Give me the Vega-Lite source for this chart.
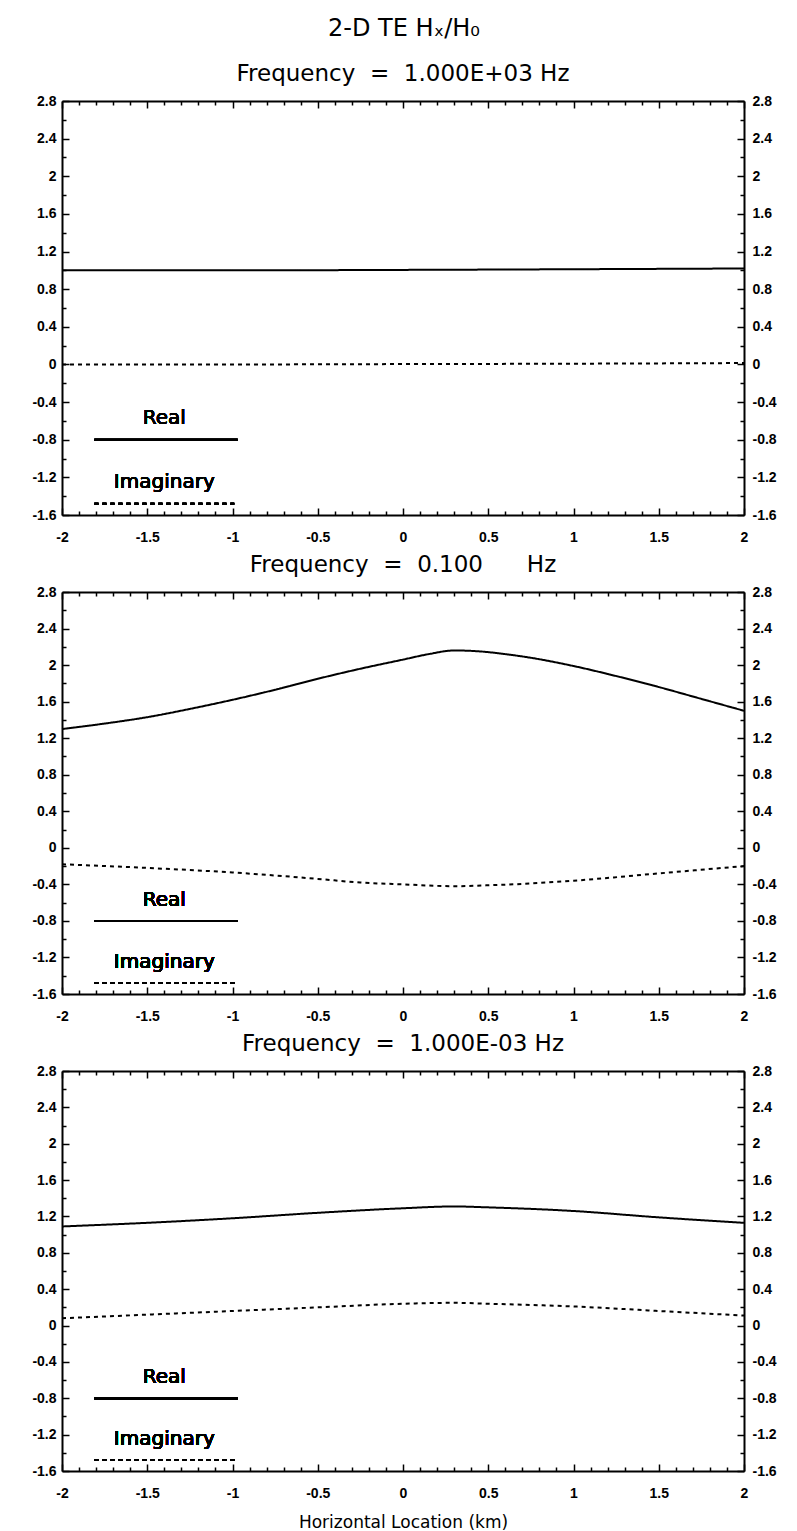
{
  "$schema": "https://vega.github.io/schema/vega-lite/v6.json",
  "background": "white",
  "padding": {"left": 31, "right": 8, "top": 17, "bottom": 0},
  "title": {"text": "2-D TE Hₓ/H₀", "fontSize": 24, "font": "DejaVu Sans", "fontWeight": "normal", "anchor": "middle", "offset": 22, "color": "black"},
  "config": {
    "view": {"stroke": null},
    "title": {"font": "DejaVu Sans", "fontSize": 23, "fontWeight": "normal", "color": "black", "offset": 8},
    "axis": {"grid": false, "domainColor": "black", "domainWidth": 2, "tickColor": "black", "tickWidth": 1.5, "labelColor": "black", "labelFont": "Liberation Sans", "labelFontWeight": "bold", "labelFontSize": 14, "titleFont": "DejaVu Sans", "titleFontWeight": "normal", "titleFontSize": 17, "titleColor": "black"}
  },
  "datasets": {
    "p1": [
      {"x": -2, "value": 1.0, "part": "Real"}, {"x": -1, "value": 1.0, "part": "Real"}, {"x": 0, "value": 1.005, "part": "Real"}, {"x": 1, "value": 1.012, "part": "Real"}, {"x": 2, "value": 1.02, "part": "Real"},
      {"x": -2, "value": 0.0, "part": "Imaginary"}, {"x": -1, "value": 0.0, "part": "Imaginary"}, {"x": 0, "value": 0.004, "part": "Imaginary"}, {"x": 1, "value": 0.008, "part": "Imaginary"}, {"x": 2, "value": 0.015, "part": "Imaginary"}
    ],
    "p2": [
      {"x": -2, "value": 1.30, "part": "Real"}, {"x": -1.75, "value": 1.36, "part": "Real"}, {"x": -1.5, "value": 1.43, "part": "Real"}, {"x": -1.25, "value": 1.52, "part": "Real"}, {"x": -1, "value": 1.62, "part": "Real"}, {"x": -0.75, "value": 1.73, "part": "Real"}, {"x": -0.5, "value": 1.85, "part": "Real"}, {"x": -0.25, "value": 1.96, "part": "Real"}, {"x": 0, "value": 2.06, "part": "Real"}, {"x": 0.15, "value": 2.12, "part": "Real"}, {"x": 0.3, "value": 2.16, "part": "Real"}, {"x": 0.45, "value": 2.15, "part": "Real"}, {"x": 0.6, "value": 2.12, "part": "Real"}, {"x": 0.75, "value": 2.08, "part": "Real"}, {"x": 1, "value": 1.99, "part": "Real"}, {"x": 1.25, "value": 1.88, "part": "Real"}, {"x": 1.5, "value": 1.76, "part": "Real"}, {"x": 1.75, "value": 1.63, "part": "Real"}, {"x": 2, "value": 1.50, "part": "Real"},
      {"x": -2, "value": -0.18, "part": "Imaginary"}, {"x": -1.5, "value": -0.22, "part": "Imaginary"}, {"x": -1, "value": -0.27, "part": "Imaginary"}, {"x": -0.5, "value": -0.34, "part": "Imaginary"}, {"x": -0.25, "value": -0.38, "part": "Imaginary"}, {"x": 0, "value": -0.40, "part": "Imaginary"}, {"x": 0.3, "value": -0.42, "part": "Imaginary"}, {"x": 0.5, "value": -0.41, "part": "Imaginary"}, {"x": 0.75, "value": -0.39, "part": "Imaginary"}, {"x": 1, "value": -0.36, "part": "Imaginary"}, {"x": 1.5, "value": -0.28, "part": "Imaginary"}, {"x": 2, "value": -0.20, "part": "Imaginary"}
    ],
    "p3": [
      {"x": -2, "value": 1.09, "part": "Real"}, {"x": -1.5, "value": 1.13, "part": "Real"}, {"x": -1, "value": 1.18, "part": "Real"}, {"x": -0.5, "value": 1.24, "part": "Real"}, {"x": 0, "value": 1.29, "part": "Real"}, {"x": 0.3, "value": 1.31, "part": "Real"}, {"x": 0.5, "value": 1.30, "part": "Real"}, {"x": 1, "value": 1.26, "part": "Real"}, {"x": 1.5, "value": 1.19, "part": "Real"}, {"x": 2, "value": 1.13, "part": "Real"},
      {"x": -2, "value": 0.08, "part": "Imaginary"}, {"x": -1.5, "value": 0.12, "part": "Imaginary"}, {"x": -1, "value": 0.16, "part": "Imaginary"}, {"x": -0.5, "value": 0.20, "part": "Imaginary"}, {"x": 0, "value": 0.24, "part": "Imaginary"}, {"x": 0.3, "value": 0.25, "part": "Imaginary"}, {"x": 0.5, "value": 0.24, "part": "Imaginary"}, {"x": 1, "value": 0.21, "part": "Imaginary"}, {"x": 1.5, "value": 0.16, "part": "Imaginary"}, {"x": 2, "value": 0.11, "part": "Imaginary"}
    ]
  },
  "spacing": 7,
  "vconcat": [
    {
      "width": 682, "height": 414,
      "title": "Frequency\u00a0 =\u00a0 1.000E+03 Hz",
      "data": {"name": "p1"},
      "resolve": {"axis": {"x": "independent", "y": "independent"}},
      "layer": [
        {"mark": {"type": "line", "color": "black", "strokeWidth": 2, "interpolate": "monotone"},
         "encoding": {
           "x": {"field": "x", "type": "quantitative", "scale": {"domain": [-2, 2], "nice": false, "zero": false},
                 "axis": {"orient": "bottom", "title": null, "values": [-2,-1.9,-1.8,-1.7,-1.6,-1.5,-1.4,-1.3,-1.2,-1.1,-1,-0.9,-0.8,-0.7,-0.6,-0.5,-0.4,-0.3,-0.2,-0.1,0,0.1,0.2,0.3,0.4,0.5,0.6,0.7,0.8,0.9,1,1.1,1.2,1.3,1.4,1.5,1.6,1.7,1.8,1.9,2],
                          "labelExpr": "abs(datum.value*2 - round(datum.value*2)) < 0.01 ? replace(format(datum.value, '~g'), '\u2212', '-') : ''",
                          "tickSize": {"condition": {"test": "abs(datum.value*2 - round(datum.value*2)) < 0.01", "value": -7}, "value": -4},
                          "labelPadding": 22, "labelFlush": false, "labelOverlap": false}},
           "y": {"field": "value", "type": "quantitative", "scale": {"domain": [-1.6, 2.8], "nice": false, "zero": false},
                 "axis": {"orient": "left", "title": null, "values": [-1.6,-1.4,-1.2,-1,-0.8,-0.6,-0.4,-0.2,0,0.2,0.4,0.6,0.8,1,1.2,1.4,1.6,1.8,2,2.2,2.4,2.6,2.8],
                          "labelExpr": "abs(datum.value/0.4 - round(datum.value/0.4)) < 0.01 ? replace(format(datum.value, '~g'), '\u2212', '-') : ''",
                          "tickSize": {"condition": {"test": "abs(datum.value/0.4 - round(datum.value/0.4)) < 0.01", "value": -7}, "value": -4},
                          "labelPadding": 13, "labelFlush": false, "labelOverlap": false}},
           "strokeDash": {"field": "part", "type": "nominal", "scale": {"domain": ["Real", "Imaginary"], "range": [[1, 0], [4, 4]]}, "legend": null}
         }},
        {"mark": {"type": "line", "opacity": 0},
         "encoding": {
           "x": {"field": "x", "type": "quantitative",
                 "axis": {"orient": "top", "title": null, "labels": false, "values": [-2,-1.9,-1.8,-1.7,-1.6,-1.5,-1.4,-1.3,-1.2,-1.1,-1,-0.9,-0.8,-0.7,-0.6,-0.5,-0.4,-0.3,-0.2,-0.1,0,0.1,0.2,0.3,0.4,0.5,0.6,0.7,0.8,0.9,1,1.1,1.2,1.3,1.4,1.5,1.6,1.7,1.8,1.9,2],
                          "tickSize": {"condition": {"test": "abs(datum.value*2 - round(datum.value*2)) < 0.01", "value": -7}, "value": -4}}},
           "y": {"field": "value", "type": "quantitative",
                 "axis": {"orient": "right", "title": null, "values": [-1.6,-1.4,-1.2,-1,-0.8,-0.6,-0.4,-0.2,0,0.2,0.4,0.6,0.8,1,1.2,1.4,1.6,1.8,2,2.2,2.4,2.6,2.8],
                          "labelExpr": "abs(datum.value/0.4 - round(datum.value/0.4)) < 0.01 ? replace(format(datum.value, '~g'), '\u2212', '-') : ''",
                          "tickSize": {"condition": {"test": "abs(datum.value/0.4 - round(datum.value/0.4)) < 0.01", "value": -7}, "value": -4},
                          "labelPadding": 15, "labelFlush": false, "labelOverlap": false}},
           "detail": {"field": "part"}
         }},
        {"mark": {"type": "rule", "color": "black", "strokeWidth": 2},
         "encoding": {"x": {"datum": -1.81, "type": "quantitative", "axis": null}, "x2": {"datum": -0.97}, "y": {"datum": -0.8, "type": "quantitative", "axis": null}}},
        {"mark": {"type": "rule", "color": "black", "strokeWidth": 2, "strokeDash": [4, 4]},
         "encoding": {"x": {"datum": -1.81, "type": "quantitative", "axis": null}, "x2": {"datum": -0.99}, "y": {"datum": -1.48, "type": "quantitative", "axis": null}}},
        {"mark": {"type": "text", "font": "DejaVu Sans", "fontSize": 20, "color": "black"},
         "encoding": {"x": {"datum": -1.4, "type": "quantitative", "axis": null}, "y": {"datum": -0.57, "type": "quantitative", "axis": null}, "text": {"value": "Real"}}},
        {"mark": {"type": "text", "font": "DejaVu Sans", "fontSize": 20, "color": "black"},
         "encoding": {"x": {"datum": -1.4, "type": "quantitative", "axis": null}, "y": {"datum": -1.25, "type": "quantitative", "axis": null}, "text": {"value": "Imaginary"}}}
      ]
    },
    {
      "width": 682, "height": 402,
      "title": "Frequency\u00a0 =\u00a0 0.100\u00a0\u00a0\u00a0\u00a0\u00a0\u00a0Hz",
      "data": {"name": "p2"},
      "resolve": {"axis": {"x": "independent", "y": "independent"}},
      "layer": [
        {"mark": {"type": "line", "color": "black", "strokeWidth": 2, "interpolate": "monotone"},
         "encoding": {
           "x": {"field": "x", "type": "quantitative", "scale": {"domain": [-2, 2], "nice": false, "zero": false},
                 "axis": {"orient": "bottom", "title": null, "values": [-2,-1.9,-1.8,-1.7,-1.6,-1.5,-1.4,-1.3,-1.2,-1.1,-1,-0.9,-0.8,-0.7,-0.6,-0.5,-0.4,-0.3,-0.2,-0.1,0,0.1,0.2,0.3,0.4,0.5,0.6,0.7,0.8,0.9,1,1.1,1.2,1.3,1.4,1.5,1.6,1.7,1.8,1.9,2],
                          "labelExpr": "abs(datum.value*2 - round(datum.value*2)) < 0.01 ? replace(format(datum.value, '~g'), '\u2212', '-') : ''",
                          "tickSize": {"condition": {"test": "abs(datum.value*2 - round(datum.value*2)) < 0.01", "value": -7}, "value": -4},
                          "labelPadding": 22, "labelFlush": false, "labelOverlap": false}},
           "y": {"field": "value", "type": "quantitative", "scale": {"domain": [-1.6, 2.8], "nice": false, "zero": false},
                 "axis": {"orient": "left", "title": null, "values": [-1.6,-1.4,-1.2,-1,-0.8,-0.6,-0.4,-0.2,0,0.2,0.4,0.6,0.8,1,1.2,1.4,1.6,1.8,2,2.2,2.4,2.6,2.8],
                          "labelExpr": "abs(datum.value/0.4 - round(datum.value/0.4)) < 0.01 ? replace(format(datum.value, '~g'), '\u2212', '-') : ''",
                          "tickSize": {"condition": {"test": "abs(datum.value/0.4 - round(datum.value/0.4)) < 0.01", "value": -7}, "value": -4},
                          "labelPadding": 13, "labelFlush": false, "labelOverlap": false}},
           "strokeDash": {"field": "part", "type": "nominal", "scale": {"domain": ["Real", "Imaginary"], "range": [[1, 0], [4, 4]]}, "legend": null}
         }},
        {"mark": {"type": "line", "opacity": 0},
         "encoding": {
           "x": {"field": "x", "type": "quantitative",
                 "axis": {"orient": "top", "title": null, "labels": false, "values": [-2,-1.9,-1.8,-1.7,-1.6,-1.5,-1.4,-1.3,-1.2,-1.1,-1,-0.9,-0.8,-0.7,-0.6,-0.5,-0.4,-0.3,-0.2,-0.1,0,0.1,0.2,0.3,0.4,0.5,0.6,0.7,0.8,0.9,1,1.1,1.2,1.3,1.4,1.5,1.6,1.7,1.8,1.9,2],
                          "tickSize": {"condition": {"test": "abs(datum.value*2 - round(datum.value*2)) < 0.01", "value": -7}, "value": -4}}},
           "y": {"field": "value", "type": "quantitative",
                 "axis": {"orient": "right", "title": null, "values": [-1.6,-1.4,-1.2,-1,-0.8,-0.6,-0.4,-0.2,0,0.2,0.4,0.6,0.8,1,1.2,1.4,1.6,1.8,2,2.2,2.4,2.6,2.8],
                          "labelExpr": "abs(datum.value/0.4 - round(datum.value/0.4)) < 0.01 ? replace(format(datum.value, '~g'), '\u2212', '-') : ''",
                          "tickSize": {"condition": {"test": "abs(datum.value/0.4 - round(datum.value/0.4)) < 0.01", "value": -7}, "value": -4},
                          "labelPadding": 15, "labelFlush": false, "labelOverlap": false}},
           "detail": {"field": "part"}
         }},
        {"mark": {"type": "rule", "color": "black", "strokeWidth": 2},
         "encoding": {"x": {"datum": -1.81, "type": "quantitative", "axis": null}, "x2": {"datum": -0.97}, "y": {"datum": -0.8, "type": "quantitative", "axis": null}}},
        {"mark": {"type": "rule", "color": "black", "strokeWidth": 2, "strokeDash": [4, 4]},
         "encoding": {"x": {"datum": -1.81, "type": "quantitative", "axis": null}, "x2": {"datum": -0.99}, "y": {"datum": -1.48, "type": "quantitative", "axis": null}}},
        {"mark": {"type": "text", "font": "DejaVu Sans", "fontSize": 20, "color": "black"},
         "encoding": {"x": {"datum": -1.4, "type": "quantitative", "axis": null}, "y": {"datum": -0.57, "type": "quantitative", "axis": null}, "text": {"value": "Real"}}},
        {"mark": {"type": "text", "font": "DejaVu Sans", "fontSize": 20, "color": "black"},
         "encoding": {"x": {"datum": -1.4, "type": "quantitative", "axis": null}, "y": {"datum": -1.25, "type": "quantitative", "axis": null}, "text": {"value": "Imaginary"}}}
      ]
    },
    {
      "width": 682, "height": 400,
      "title": "Frequency\u00a0 =\u00a0 1.000E-03 Hz",
      "data": {"name": "p3"},
      "resolve": {"axis": {"x": "independent", "y": "independent"}},
      "layer": [
        {"mark": {"type": "line", "color": "black", "strokeWidth": 2, "interpolate": "monotone"},
         "encoding": {
           "x": {"field": "x", "type": "quantitative", "scale": {"domain": [-2, 2], "nice": false, "zero": false},
                 "axis": {"orient": "bottom", "title": "Horizontal Location (km)", "titlePadding": 11, "values": [-2,-1.9,-1.8,-1.7,-1.6,-1.5,-1.4,-1.3,-1.2,-1.1,-1,-0.9,-0.8,-0.7,-0.6,-0.5,-0.4,-0.3,-0.2,-0.1,0,0.1,0.2,0.3,0.4,0.5,0.6,0.7,0.8,0.9,1,1.1,1.2,1.3,1.4,1.5,1.6,1.7,1.8,1.9,2],
                          "labelExpr": "abs(datum.value*2 - round(datum.value*2)) < 0.01 ? replace(format(datum.value, '~g'), '\u2212', '-') : ''",
                          "tickSize": {"condition": {"test": "abs(datum.value*2 - round(datum.value*2)) < 0.01", "value": -7}, "value": -4},
                          "labelPadding": 22, "labelFlush": false, "labelOverlap": false}},
           "y": {"field": "value", "type": "quantitative", "scale": {"domain": [-1.6, 2.8], "nice": false, "zero": false},
                 "axis": {"orient": "left", "title": null, "values": [-1.6,-1.4,-1.2,-1,-0.8,-0.6,-0.4,-0.2,0,0.2,0.4,0.6,0.8,1,1.2,1.4,1.6,1.8,2,2.2,2.4,2.6,2.8],
                          "labelExpr": "abs(datum.value/0.4 - round(datum.value/0.4)) < 0.01 ? replace(format(datum.value, '~g'), '\u2212', '-') : ''",
                          "tickSize": {"condition": {"test": "abs(datum.value/0.4 - round(datum.value/0.4)) < 0.01", "value": -7}, "value": -4},
                          "labelPadding": 13, "labelFlush": false, "labelOverlap": false}},
           "strokeDash": {"field": "part", "type": "nominal", "scale": {"domain": ["Real", "Imaginary"], "range": [[1, 0], [4, 4]]}, "legend": null}
         }},
        {"mark": {"type": "line", "opacity": 0},
         "encoding": {
           "x": {"field": "x", "type": "quantitative",
                 "axis": {"orient": "top", "title": null, "labels": false, "values": [-2,-1.9,-1.8,-1.7,-1.6,-1.5,-1.4,-1.3,-1.2,-1.1,-1,-0.9,-0.8,-0.7,-0.6,-0.5,-0.4,-0.3,-0.2,-0.1,0,0.1,0.2,0.3,0.4,0.5,0.6,0.7,0.8,0.9,1,1.1,1.2,1.3,1.4,1.5,1.6,1.7,1.8,1.9,2],
                          "tickSize": {"condition": {"test": "abs(datum.value*2 - round(datum.value*2)) < 0.01", "value": -7}, "value": -4}}},
           "y": {"field": "value", "type": "quantitative",
                 "axis": {"orient": "right", "title": null, "values": [-1.6,-1.4,-1.2,-1,-0.8,-0.6,-0.4,-0.2,0,0.2,0.4,0.6,0.8,1,1.2,1.4,1.6,1.8,2,2.2,2.4,2.6,2.8],
                          "labelExpr": "abs(datum.value/0.4 - round(datum.value/0.4)) < 0.01 ? replace(format(datum.value, '~g'), '\u2212', '-') : ''",
                          "tickSize": {"condition": {"test": "abs(datum.value/0.4 - round(datum.value/0.4)) < 0.01", "value": -7}, "value": -4},
                          "labelPadding": 15, "labelFlush": false, "labelOverlap": false}},
           "detail": {"field": "part"}
         }},
        {"mark": {"type": "rule", "color": "black", "strokeWidth": 2},
         "encoding": {"x": {"datum": -1.81, "type": "quantitative", "axis": null}, "x2": {"datum": -0.97}, "y": {"datum": -0.8, "type": "quantitative", "axis": null}}},
        {"mark": {"type": "rule", "color": "black", "strokeWidth": 2, "strokeDash": [4, 4]},
         "encoding": {"x": {"datum": -1.81, "type": "quantitative", "axis": null}, "x2": {"datum": -0.99}, "y": {"datum": -1.48, "type": "quantitative", "axis": null}}},
        {"mark": {"type": "text", "font": "DejaVu Sans", "fontSize": 20, "color": "black"},
         "encoding": {"x": {"datum": -1.4, "type": "quantitative", "axis": null}, "y": {"datum": -0.57, "type": "quantitative", "axis": null}, "text": {"value": "Real"}}},
        {"mark": {"type": "text", "font": "DejaVu Sans", "fontSize": 20, "color": "black"},
         "encoding": {"x": {"datum": -1.4, "type": "quantitative", "axis": null}, "y": {"datum": -1.25, "type": "quantitative", "axis": null}, "text": {"value": "Imaginary"}}}
      ]
    }
  ]
}
